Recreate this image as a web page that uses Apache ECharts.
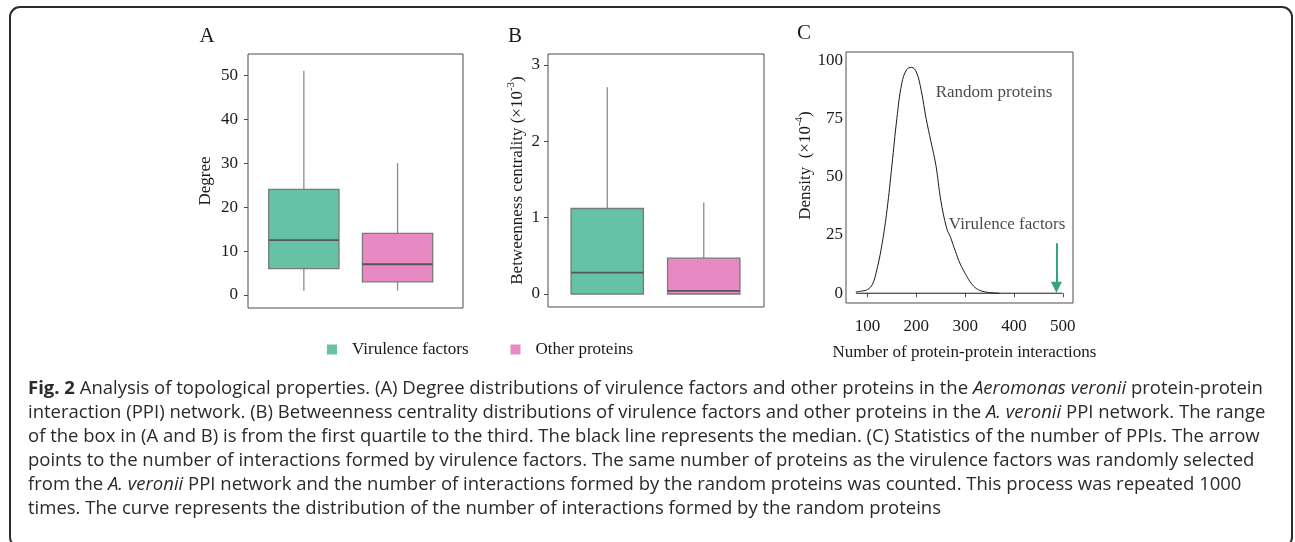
<!DOCTYPE html>
<html><head><meta charset="utf-8">
<script src="https://cdn.jsdelivr.net/npm/echarts@6/dist/echarts.min.js"></script>
<style>html,body{margin:0;padding:0;background:#fff}#c{width:1295px;height:542px}</style>
</head><body><div id="c"></div>
<script>
// ---------- data ----------
const groups = ['Virulence factors', 'Other proteins'];
const groupColors = ['#66C2A5', '#E78AC3'];
// [min, Q1, median, Q3, max]
const degreeVirulence = [1, 6, 12.5, 24, 51];
const degreeOther = [1, 3, 7, 14, 30];
const betweenVirulence = [0, 0, 0.28, 1.12, 2.71];
const betweenOther = [0, 0, 0.04, 0.47, 1.2];
const degreeTicks = [0, 10, 20, 30, 40, 50];
const betweenTicks = [0, 1, 2, 3];
// density of the number of PPIs of random proteins (x10^-4)
const densityX = [76, 90, 100, 110, 120, 130, 140, 150, 160, 170, 180, 190, 200, 210, 220, 230, 240, 250, 262, 270, 280, 290, 300, 310, 320, 330, 340, 350, 360, 370];
const densityY = [0.6, 1.0, 1.6, 3.8, 11, 21.5, 36, 55, 75, 90, 96, 97, 95, 87, 75, 65, 55, 40, 28, 24, 18, 12.5, 8.5, 5, 2.5, 1.2, 0.6, 0.3, 0.1, 0];
const baselineX = [76, 500];
const densityTicksX = [100, 200, 300, 400, 500];
const densityTicksY = [0, 25, 50, 75, 100];
const virulencePPI = 487;
const arrowFrom = 21.5;
const arrowTo = 2.6;
const annotations = [[359, 86.4, 'Random proteins'], [386, 29.3, 'Virulence factors']];
const panelLetters = ['A', 'B', 'C'];
const captionLines = [
  '{b|Fig. 2} Analysis of topological properties. (A) Degree distributions of virulence factors and other proteins in the {i|Aeromonas veronii} protein-protein',
  'interaction (PPI) network. (B) Betweenness centrality distributions of virulence factors and other proteins in the {i|A. veronii} PPI network. The range',
  'of the box in (A and B) is from the first quartile to the third. The black line represents the median. (C) Statistics of the number of PPIs. The arrow',
  'points to the number of interactions formed by virulence factors. The same number of proteins as the virulence factors was randomly selected',
  'from the {i|A. veronii} PPI network and the number of interactions formed by the random proteins was counted. This process was repeated 1000',
  'times. The curve represents the distribution of the number of interactions formed by the random proteins'
];

// ---------- styles ----------
const SERIF = "'Liberation Serif', 'Times New Roman', serif";
const TXT = '#1a1a1a';
const FRAME = '#4d4d4d';
const capFont = "'Open Sans', sans-serif";
const capSize = 18.5;
const capColor = '#2a2a2a';

function boxRender(params, api) {
  const cat = api.value(0);
  const band = api.size([1, 0])[0];
  const w = band * 0.75;
  const pMin = api.coord([cat, api.value(1)]);
  const pQ1 = api.coord([cat, api.value(2)]);
  const pMed = api.coord([cat, api.value(3)]);
  const pQ3 = api.coord([cat, api.value(4)]);
  const pMax = api.coord([cat, api.value(5)]);
  const x = pMed[0];
  return {
    type: 'group',
    children: [
      { type: 'line', shape: { x1: x, y1: pQ3[1], x2: x, y2: pMax[1] }, style: { stroke: '#8c8c8c', lineWidth: 1.3 } },
      { type: 'line', shape: { x1: x, y1: pQ1[1], x2: x, y2: pMin[1] }, style: { stroke: '#8c8c8c', lineWidth: 1.3 } },
      { type: 'rect', shape: { x: x - w / 2, y: pQ3[1], width: w, height: pQ1[1] - pQ3[1] }, style: { fill: api.visual('color'), stroke: '#7a7a7a', lineWidth: 1.3 } },
      { type: 'line', shape: { x1: x - w / 2, y1: pMed[1], x2: x + w / 2, y2: pMed[1] }, style: { stroke: '#555555', lineWidth: 1.8 } }
    ]
  };
}

function boxSeries(name, color, catIdx, vals, axisIdx) {
  return {
    type: 'custom', name: name, xAxisIndex: axisIdx, yAxisIndex: axisIdx,
    itemStyle: { color: color },
    renderItem: boxRender,
    encode: { x: 0, y: [1, 2, 3, 4, 5] },
    data: [[catIdx].concat(vals)]
  };
}

function hiddenValueX(gi) { return { gridIndex: gi, type: 'value', min: 0, max: 1, show: false }; }
function hiddenCatX(gi) { return { gridIndex: gi, type: 'category', data: groups, show: false, boundaryGap: true }; }

const axisLabelStyle = { fontFamily: SERIF, fontSize: 17, color: TXT };

const option = {
  animation: false,
  backgroundColor: '#ffffff',
  grid: [
    { left: 248, top: 54, width: 215, height: 254, show: true, borderColor: FRAME, borderWidth: 1, backgroundColor: 'transparent' },
    { left: 257, top: 54, width: 187.4, height: 254 },
    { left: 548, top: 54, width: 216, height: 253, show: true, borderColor: FRAME, borderWidth: 1, backgroundColor: 'transparent' },
    { left: 559, top: 54, width: 193, height: 253 },
    { left: 846, top: 52, width: 227, height: 251, show: true, borderColor: FRAME, borderWidth: 1, backgroundColor: 'transparent' }
  ],
  xAxis: [
    hiddenValueX(0), hiddenCatX(1), hiddenValueX(2), hiddenCatX(3),
    {
      gridIndex: 4, type: 'value', min: 55.8, max: 521,
      axisLine: { show: false },
      axisTick: { show: true, length: 4, lineStyle: { color: FRAME }, customValues: densityTicksX },
      axisLabel: Object.assign({ customValues: densityTicksX, margin: 15 }, axisLabelStyle),
      splitLine: { show: false },
      name: 'Number of protein-protein interactions', nameLocation: 'middle', nameGap: 41,
      nameTextStyle: { fontFamily: SERIF, fontSize: 17, color: TXT, padding: [0, 0, 0, 10] }
    }
  ],
  yAxis: [
    {
      gridIndex: 0, type: 'value', min: -2.95, max: 54.8,
      axisLine: { show: false },
      axisTick: { show: true, length: 4, lineStyle: { color: FRAME }, customValues: degreeTicks },
      axisLabel: Object.assign({ customValues: degreeTicks, margin: 10 }, axisLabelStyle),
      splitLine: { show: false },
      name: 'Degree', nameLocation: 'middle', nameGap: 34, nameRotate: 90,
      nameTextStyle: { fontFamily: SERIF, fontSize: 17, color: TXT }
    },
    { gridIndex: 1, type: 'value', min: -2.95, max: 54.8, show: false, splitLine: { show: false } },
    {
      gridIndex: 2, type: 'value', min: -0.17, max: 3.144,
      axisLine: { show: false },
      axisTick: { show: true, length: 4, lineStyle: { color: FRAME }, customValues: betweenTicks },
      axisLabel: Object.assign({ customValues: betweenTicks, margin: 8 }, axisLabelStyle),
      splitLine: { show: false },
      name: '{a|Betweenness centrality (×10}{s|-3}{a|)}', nameLocation: 'middle', nameGap: 22, nameRotate: 90,
      nameTextStyle: {
        fontFamily: SERIF, fontSize: 17, color: TXT,
        rich: {
          a: { fontFamily: SERIF, fontSize: 17, color: TXT, lineHeight: 20, verticalAlign: 'bottom' },
          s: { fontFamily: SERIF, fontSize: 11, color: TXT, lineHeight: 20, verticalAlign: 'top', padding: [0, 0, 8, 0] }
        }
      }
    },
    { gridIndex: 3, type: 'value', min: -0.17, max: 3.144, show: false, splitLine: { show: false } },
    {
      gridIndex: 4, type: 'value', min: -4.2, max: 103.6,
      axisLine: { show: false },
      axisTick: { show: false, customValues: densityTicksY },
      axisLabel: Object.assign({ customValues: densityTicksY, margin: 3 }, axisLabelStyle),
      splitLine: { show: false },
      name: '{a|Density  (×10}{s|-4}{a|)}', nameLocation: 'middle', nameGap: 29, nameRotate: 90,
      nameTextStyle: {
        fontFamily: SERIF, fontSize: 17, color: TXT, padding: [0, 0, 0, 24],
        rich: {
          a: { fontFamily: SERIF, fontSize: 17, color: TXT, lineHeight: 20, verticalAlign: 'bottom' },
          s: { fontFamily: SERIF, fontSize: 11, color: TXT, lineHeight: 20, verticalAlign: 'top', padding: [0, 0, 8, 0] }
        }
      }
    }
  ],
  legend: {
    left: 322, top: 336, itemWidth: 10, itemHeight: 10, itemGap: 42, icon: 'rect',
    data: groups,
    textStyle: { fontFamily: SERIF, fontSize: 17, color: TXT, padding: [0, 0, 0, 10] },
    selectedMode: false
  },
  series: [
    boxSeries(groups[0], groupColors[0], 0, degreeVirulence, 1),
    boxSeries(groups[1], groupColors[1], 1, degreeOther, 1),
    boxSeries(groups[0], groupColors[0], 0, betweenVirulence, 3),
    boxSeries(groups[1], groupColors[1], 1, betweenOther, 3),
    {
      type: 'line', name: 'density', xAxisIndex: 4, yAxisIndex: 4,
      data: densityX.map((x, i) => [x, densityY[i]]),
      smooth: 0.4, showSymbol: false, symbol: 'none',
      lineStyle: { color: '#1a1a1a', width: 1 }, silent: true
    },
    {
      type: 'line', name: 'baseline', xAxisIndex: 4, yAxisIndex: 4,
      data: baselineX.map(x => [x, 0]), symbol: 'none',
      lineStyle: { color: '#1a1a1a', width: 1 }, silent: true
    },
    {
      type: 'lines', coordinateSystem: 'cartesian2d', xAxisIndex: 4, yAxisIndex: 4,
      symbol: ['none', 'triangle'], symbolSize: 11,
      lineStyle: { color: '#34a57c', width: 2, opacity: 1 },
      data: [{ coords: [[virulencePPI, arrowFrom], [virulencePPI, arrowTo]] }], silent: true
    },
    {
      type: 'scatter', xAxisIndex: 4, yAxisIndex: 4, symbolSize: 0,
      data: annotations,
      label: { show: true, position: 'inside', formatter: p => p.data[2], fontFamily: SERIF, fontSize: 17, color: TXT },
      silent: true
    }
  ],
  graphic: [
    { type: 'rect', shape: { x: 10, y: 7, width: 1282, height: 540, r: 10 }, style: { fill: 'none', stroke: '#2b2b2b', lineWidth: 2 }, z: 100 },
    { type: 'text', style: { x: 207, y: 36, text: panelLetters[0], font: "21px " + SERIF, fill: TXT, align: 'center', verticalAlign: 'middle' } },
    { type: 'text', style: { x: 515, y: 36, text: panelLetters[1], font: "21px " + SERIF, fill: TXT, align: 'center', verticalAlign: 'middle' } },
    { type: 'text', style: { x: 804, y: 33, text: panelLetters[2], font: "21px " + SERIF, fill: TXT, align: 'center', verticalAlign: 'middle' } }
  ].concat(captionLines.map((t, i) => ({
    type: 'text',
    style: {
      x: 28, y: 389 + i * 24, text: t, verticalAlign: 'middle', align: 'left',
      fontFamily: capFont, fontSize: capSize, fill: capColor,
      rich: {
        b: { fontFamily: capFont, fontSize: capSize, fontWeight: 'bold', fill: capColor },
        i: { fontFamily: capFont, fontSize: capSize, fontStyle: 'italic', fill: capColor }
      }
    }
  })))
};

const chart = echarts.init(document.getElementById('c'), null, { renderer: 'canvas' });
chart.setOption(option);
</script>
</body></html>
